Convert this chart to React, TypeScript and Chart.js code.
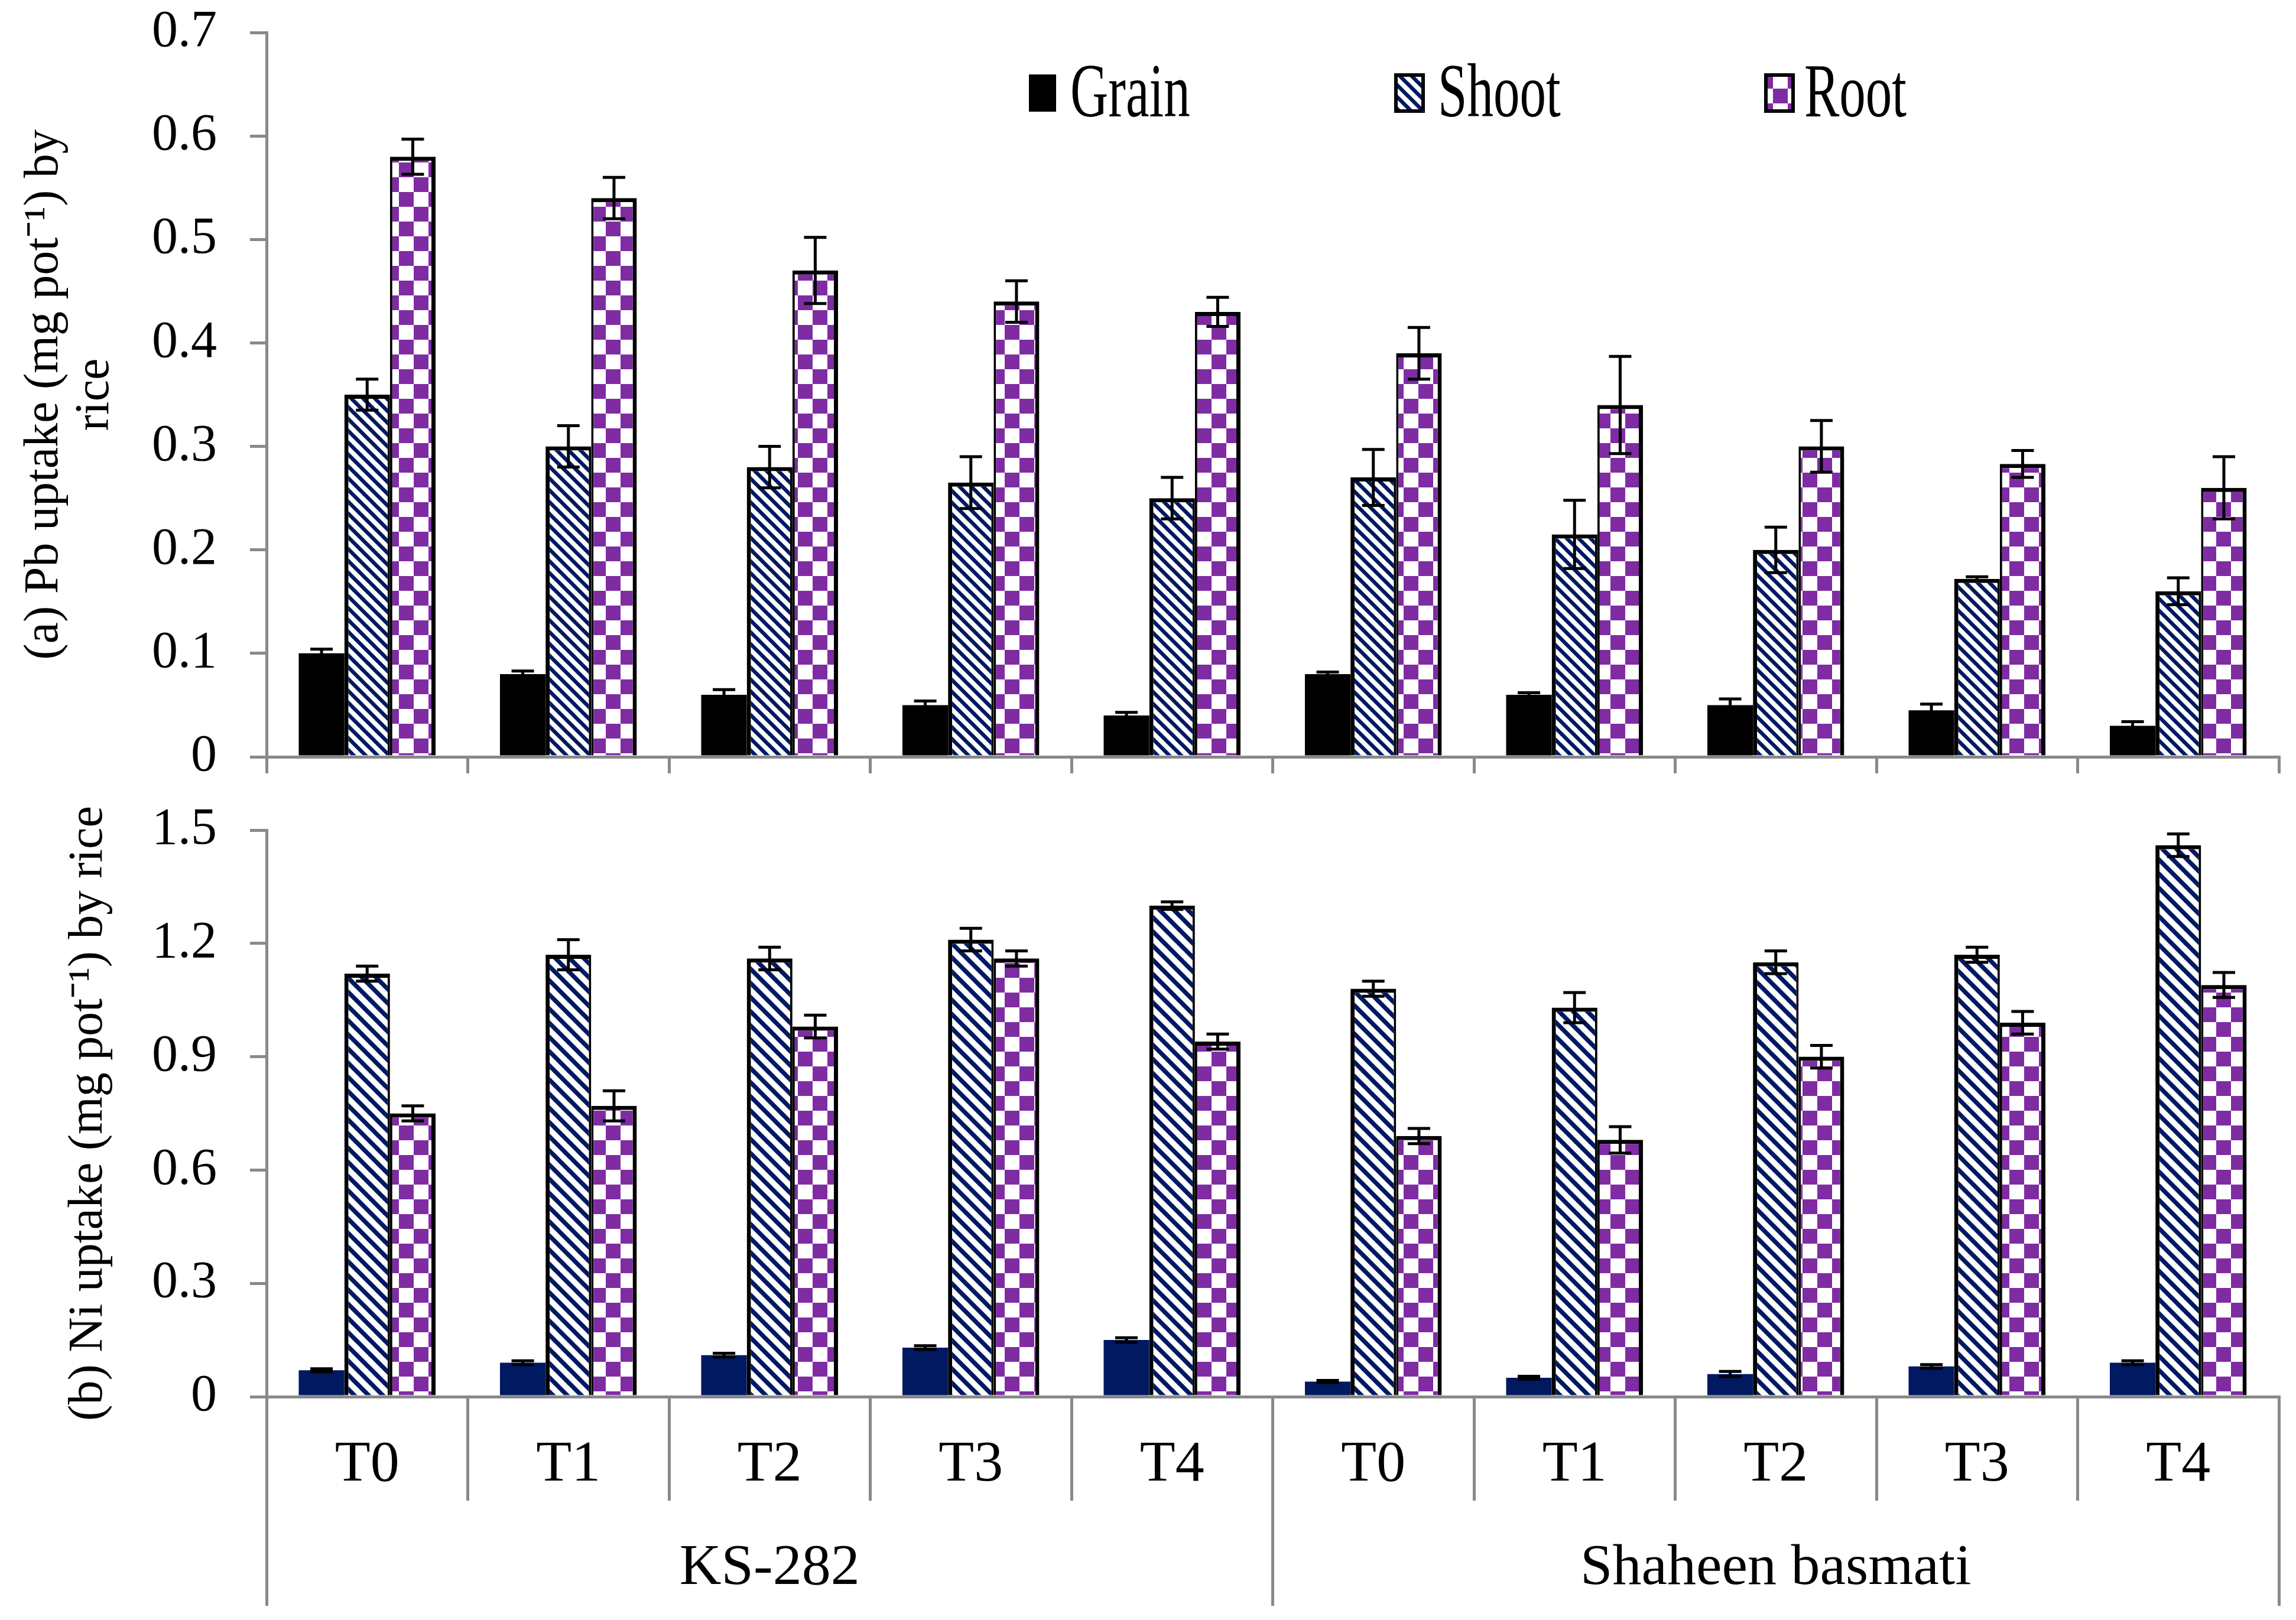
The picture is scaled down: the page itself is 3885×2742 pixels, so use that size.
import React, { useEffect, useRef } from 'react';
import { Chart, registerables } from 'chart.js';

Chart.register(...registerables);

// ---------- data ----------
const categories = ['T0', 'T1', 'T2', 'T3', 'T4', 'T0', 'T1', 'T2', 'T3', 'T4'];
const groups = ['KS-282', 'Shaheen basmati'];
const seriesNames = ['Grain', 'Shoot', 'Root'];

// (a) Pb uptake
const pbGrain = [0.10, 0.08, 0.06, 0.05, 0.04, 0.08, 0.06, 0.05, 0.045, 0.03];
const pbGrainErr = [0.004, 0.003, 0.005, 0.004, 0.003, 0.002, 0.002, 0.006, 0.006, 0.004];
const pbShoot = [0.35, 0.30, 0.28, 0.265, 0.25, 0.27, 0.215, 0.20, 0.172, 0.16];
const pbShootErr = [0.015, 0.02, 0.02, 0.025, 0.02, 0.027, 0.033, 0.022, 0.002, 0.013];
const pbRoot = [0.58, 0.54, 0.47, 0.44, 0.43, 0.39, 0.34, 0.30, 0.283, 0.26];
const pbRootErr = [0.017, 0.02, 0.032, 0.02, 0.014, 0.025, 0.047, 0.025, 0.013, 0.03];
const pbTicks = [0, 0.1, 0.2, 0.3, 0.4, 0.5, 0.6, 0.7];

// (b) Ni uptake
const niGrain = [0.07, 0.09, 0.11, 0.13, 0.15, 0.04, 0.05, 0.06, 0.08, 0.09];
const niGrainErr = [0.004, 0.005, 0.005, 0.005, 0.006, 0.003, 0.004, 0.007, 0.005, 0.005];
const niShoot = [1.12, 1.17, 1.16, 1.21, 1.30, 1.08, 1.03, 1.15, 1.17, 1.46];
const niShootErr = [0.02, 0.04, 0.03, 0.03, 0.01, 0.02, 0.04, 0.03, 0.02, 0.03];
const niRoot = [0.75, 0.77, 0.98, 1.16, 0.94, 0.69, 0.68, 0.90, 0.99, 1.09];
const niRootErr = [0.02, 0.04, 0.03, 0.02, 0.02, 0.02, 0.035, 0.03, 0.03, 0.033];
const niTicks = [0, 0.3, 0.6, 0.9, 1.2, 1.5];

// ---------- styles ----------
const FONT = "'Liberation Serif', 'Times New Roman', serif";
const AXIS = '#898989';
const NAVY = '#001960';
const PURPLE = '#7F2CA3';

function stripePattern(size: number, lw: number) {
  const c = document.createElement('canvas');
  c.width = size;
  c.height = size;
  const g = c.getContext('2d')!;
  g.fillStyle = '#ffffff';
  g.fillRect(0, 0, size, size);
  g.strokeStyle = NAVY;
  g.lineWidth = lw;
  for (let k = -1; k <= 1; k++) {
    g.beginPath();
    g.moveTo(k * size - size, -size);
    g.lineTo(k * size + 2 * size, 2 * size);
    g.stroke();
  }
  return g.createPattern(c, 'repeat')!;
}

function checkerPattern(cell: number) {
  const c = document.createElement('canvas');
  c.width = cell * 2;
  c.height = cell * 2;
  const g = c.getContext('2d')!;
  g.fillStyle = '#ffffff';
  g.fillRect(0, 0, cell * 2, cell * 2);
  g.fillStyle = PURPLE;
  g.fillRect(0, 0, cell, cell);
  g.fillRect(cell, cell, cell, cell);
  return g.createPattern(c, 'repeat')!;
}

const fmt = (v: any) => (Number(v) === 0 ? '0' : Number(v).toFixed(1));

const errorBarPlugin = {
  id: 'errorBars',
  afterDatasetsDraw(chart: any) {
    const ctx = chart.ctx;
    const y = chart.scales.y;
    ctx.save();
    ctx.strokeStyle = '#000';
    ctx.lineWidth = 5;
    chart.data.datasets.forEach((ds: any, i: number) => {
      const meta = chart.getDatasetMeta(i);
      const errs = ds.errors || [];
      meta.data.forEach((bar: any, j: number) => {
        const v = ds.data[j];
        const e = errs[j];
        if (e === undefined) return;
        const x = bar.x;
        const yt = y.getPixelForValue(v + e);
        const yb = y.getPixelForValue(v - e);
        ctx.beginPath();
        ctx.moveTo(x, yt);
        ctx.lineTo(x, yb);
        ctx.moveTo(x - 19, yt);
        ctx.lineTo(x + 19, yt);
        ctx.moveTo(x - 19, yb);
        ctx.lineTo(x + 19, yb);
        ctx.stroke();
      });
    });
    ctx.restore();
  },
};

const LEGEND_POS = [
  { bx: 1741, by: 126, bw: 46, bh: 63, border: 0, tx: 1811 },
  { bx: 2359, by: 124, bw: 52, bh: 67, border: 6, tx: 2433 },
  { bx: 2985, by: 124, bw: 52, bh: 67, border: 6, tx: 3053 },
];
const LEGEND_BASELINE = 197;

const legendPlugin = {
  id: 'boxLegend',
  afterDraw(chart: any) {
    const ctx = chart.ctx;
    ctx.save();
    chart.data.datasets.forEach((ds: any, i: number) => {
      const p = LEGEND_POS[i];
      if (!p) return;
      if (p.border > 0) {
        ctx.fillStyle = '#000';
        ctx.fillRect(p.bx, p.by, p.bw, p.bh);
        ctx.fillStyle = ds.backgroundColor;
        ctx.fillRect(p.bx + p.border, p.by + p.border, p.bw - 2 * p.border, p.bh - 2 * p.border);
      } else {
        ctx.fillStyle = ds.backgroundColor;
        ctx.fillRect(p.bx, p.by, p.bw, p.bh);
      }
      ctx.save();
      ctx.translate(p.tx, LEGEND_BASELINE);
      ctx.scale(1, 1.44);
      ctx.font = `89px ${FONT}`;
      ctx.fillStyle = '#000';
      ctx.textBaseline = 'alphabetic';
      ctx.textAlign = 'left';
      ctx.fillText(ds.label, 0, 0);
      ctx.restore();
    });
    ctx.restore();
  },
};

function yScale(ticksArr: number[], max: number, title: any, titlePad: number) {
  return {
    min: 0,
    max,
    afterBuildTicks: (s: any) => {
      s.ticks = ticksArr.map((v) => ({ value: v }));
    },
    ticks: {
      font: { family: FONT, size: 88, lineHeight: 1 },
      color: '#000',
      padding: 56,
      callback: (v: any) => fmt(v),
    },
    grid: { drawOnChartArea: false, tickLength: 28, color: AXIS, lineWidth: 5 },
    border: { display: true, color: AXIS, width: 5 },
    title: {
      display: true,
      text: title,
      font: { family: FONT, size: 82, lineHeight: 1.05 },
      color: '#000',
      padding: { top: titlePad, bottom: 0 },
    },
    afterFit: (s: any) => {
      s.width = 451;
      s.paddingTop = 40;
      s.paddingBottom = 40;
    },
  };
}

function barDatasets(g: number[], gErr: number[], s: number[], sErr: number[], r: number[], rErr: number[], grainColor: string, stripes: any, checker: any) {
  const common = { barPercentage: 1.0, categoryPercentage: 0.68, xAxisID: 'x', yAxisID: 'y' };
  return [
    { ...common, label: seriesNames[0], data: g, errors: gErr, backgroundColor: grainColor, borderWidth: 0 },
    {
      ...common,
      label: seriesNames[1],
      data: s,
      errors: sErr,
      backgroundColor: stripes,
      borderColor: '#000',
      borderWidth: { top: 7, left: 7, right: 4, bottom: 0 },
      borderSkipped: false,
    },
    {
      ...common,
      label: seriesNames[2],
      data: r,
      errors: rErr,
      backgroundColor: checker,
      borderColor: '#000',
      borderWidth: { top: 7, left: 4, right: 7, bottom: 0 },
      borderSkipped: false,
    },
  ];
}

export default function App() {
  const topRef = useRef<HTMLCanvasElement>(null);
  const botRef = useRef<HTMLCanvasElement>(null);

  useEffect(() => {
    const checker = checkerPattern(25);
    const stripesTop = stripePattern(20, 6.5);
    const stripesBot = stripePattern(24, 7.5);

    const top = new Chart(topRef.current!, {
      type: 'bar',
      data: {
        labels: categories,
        datasets: barDatasets(pbGrain, pbGrainErr, pbShoot, pbShootErr, pbRoot, pbRootErr, '#000000', stripesTop, checker) as any,
      },
      options: {
        animation: false,
        responsive: false,
        maintainAspectRatio: false,
        devicePixelRatio: 1,
        events: [],
        layout: { padding: { top: 55, right: 29, left: 0, bottom: 0 } },
        plugins: { legend: { display: false }, tooltip: { enabled: false } },
        scales: {
          x: {
            type: 'category',
            offset: true,
            grid: { offset: true, drawOnChartArea: false, tickLength: 28, color: AXIS, lineWidth: 5 },
            border: { display: true, color: AXIS, width: 5 },
            ticks: { display: false },
            afterFit: (s: any) => {
              s.height = 49;
            },
          },
          y: yScale(pbTicks, 0.7, ['(a) Pb uptake (mg pot\u207B\u00B9) by', 'rice'], 32),
        } as any,
      },
      plugins: [errorBarPlugin, legendPlugin],
    } as any);

    const bot = new Chart(botRef.current!, {
      type: 'bar',
      data: {
        labels: categories,
        datasets: barDatasets(niGrain, niGrainErr, niShoot, niShootErr, niRoot, niRootErr, NAVY, stripesBot, checker) as any,
      },
      options: {
        animation: false,
        responsive: false,
        maintainAspectRatio: false,
        devicePixelRatio: 1,
        events: [],
        layout: { padding: { top: 75, right: 29, left: 0, bottom: 0 } },
        plugins: { legend: { display: false }, tooltip: { enabled: false } },
        scales: {
          x: {
            type: 'category',
            axis: 'x',
            position: 'bottom',
            weight: 0,
            offset: true,
            grid: { offset: true, drawOnChartArea: false, tickLength: 176, color: AXIS, lineWidth: 5 },
            border: { display: true, color: AXIS, width: 5 },
            ticks: {
              font: { family: FONT, size: 98, lineHeight: 1 },
              color: '#000',
              padding: -109,
              maxRotation: 0,
              minRotation: 0,
              autoSkip: false,
            },
            afterFit: (s: any) => {
              s.height = 176;
            },
          },
          group: {
            type: 'category',
            axis: 'x',
            position: 'bottom',
            weight: 1,
            labels: groups,
            offset: true,
            grid: { offset: true, drawOnChartArea: false, tickLength: 178, color: AXIS, lineWidth: 5 },
            border: { display: false },
            ticks: {
              font: { family: FONT, size: 98, lineHeight: 1 },
              color: '#000',
              padding: -112,
              maxRotation: 0,
              minRotation: 0,
              autoSkip: false,
            },
            afterFit: (s: any) => {
              s.height = 202;
            },
          },
          y: yScale(niTicks, 1.5, '(b) Ni uptake (mg pot\u207B\u00B9) by rice', 107),
        } as any,
      },
      plugins: [errorBarPlugin],
    } as any);

    return () => {
      top.destroy();
      bot.destroy();
    };
  }, []);

  return (
    <div style={{ position: 'fixed', left: 0, top: 0, width: 3885, height: 2742, background: '#ffffff' }}>
      <canvas
        ref={topRef}
        width={3885}
        height={1330}
        style={{ position: 'absolute', left: 0, top: 0, width: 3885, height: 1330 }}
      />
      <canvas
        ref={botRef}
        width={3885}
        height={1412}
        style={{ position: 'absolute', left: 0, top: 1330, width: 3885, height: 1412 }}
      />
    </div>
  );
}
